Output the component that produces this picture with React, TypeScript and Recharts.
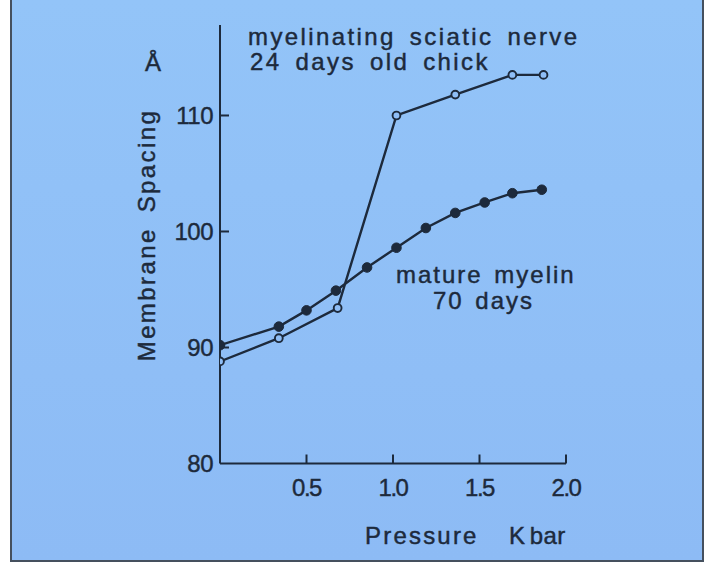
import React from 'react';
import { LineChart, Line, XAxis, YAxis } from 'recharts';

// Pressure (K bar) and membrane spacing (Å)
const maturePressure = [0, 0.34, 0.5, 0.67, 0.85, 1.02, 1.19, 1.36, 1.53, 1.69, 1.86];
const matureSpacing = [90.2, 91.8, 93.2, 94.9, 96.9, 98.6, 100.3, 101.6, 102.5, 103.3, 103.6];

const myelinatingPressure = [0, 0.34, 0.68, 1.02, 1.36, 1.69, 1.87];
const myelinatingSpacing = [88.8, 90.8, 93.4, 110.0, 111.8, 113.5, 113.5];

const xTicks = [0.5, 1.0, 1.5, 2.0];
const xTickLabels = ['0.5', '1.0', '1.5', '2.0'];
const yTicks = [80, 90, 100, 110];
const yTickLabels = ['80', '90', '100', '110'];

const matureData = maturePressure.map((x, i) => ({ x, y: matureSpacing[i] }));
const myelinatingData = myelinatingPressure.map((x, i) => ({ x, y: myelinatingSpacing[i] }));

const INK = '#1d2a3c';
const BG = '#8fbef6';
const FONT = '"Liberation Sans", Arial, Helvetica, sans-serif';

const XTick = (props: any) => {
  const { x, y, payload } = props;
  const idx = xTicks.indexOf(payload.value);
  return (
    <g>
      <line x1={x} y1={y} x2={x} y2={y - 9} stroke={INK} strokeWidth={2} />
      <text
        x={x}
        y={y + 32}
        textAnchor="middle"
        fill={INK}
        stroke={INK}
        strokeWidth={0.4}
        fontSize={24}
        fontFamily={FONT}
        letterSpacing={-1.5}
      >
        {idx >= 0 ? xTickLabels[idx] : payload.value}
      </text>
    </g>
  );
};

const YTick = (props: any) => {
  const { x, y, payload } = props;
  const idx = yTicks.indexOf(payload.value);
  return (
    <g>
      {payload.value !== 80 && <line x1={x} y1={y} x2={x + 9} y2={y} stroke={INK} strokeWidth={2} />}
      <text
        x={x - 7}
        y={y}
        dy="0.36em"
        textAnchor="end"
        fill={INK}
        stroke={INK}
        strokeWidth={0.4}
        fontSize={24}
        fontFamily={FONT}
        letterSpacing={-0.5}
      >
        {idx >= 0 ? yTickLabels[idx] : payload.value}
      </text>
    </g>
  );
};

const textStyle = { fill: INK, stroke: INK, strokeWidth: 0.45, fontFamily: FONT, fontSize: 24 } as const;

export default function App() {
  return (
    <div style={{ position: 'absolute', left: 0, top: 0, width: 708, height: 567, background: '#ffffff', overflow: 'hidden' }}>
      <div
        style={{
          position: 'absolute',
          left: 10,
          top: 0,
          width: 690,
          height: 560,
          background: `linear-gradient(180deg, #93c4f8 0%, #8dbbf5 100%)`,
          borderLeft: '2px solid #45505e',
          borderRight: '2px solid #45505e',
          borderBottom: '2px solid #45505e',
        }}
      />
      <div style={{ position: 'absolute', left: 0, top: 0 }}>
        <LineChart width={708} height={567} margin={{ top: 25, right: 142, bottom: 73.5, left: 160 }}>
          <XAxis
            type="number"
            dataKey="x"
            domain={[0, 2]}
            ticks={xTicks}
            height={30}
            tickSize={0}
            tickMargin={0}
            tickLine={false}
            axisLine={{ stroke: INK, strokeWidth: 2 }}
            tick={<XTick />}
            allowDataOverflow
          />
          <YAxis
            type="number"
            dataKey="y"
            domain={[80, 117.8]}
            ticks={yTicks}
            width={60}
            tickSize={0}
            tickMargin={0}
            tickLine={false}
            axisLine={{ stroke: INK, strokeWidth: 2 }}
            tick={<YTick />}
            allowDataOverflow
          />
          <Line
            data={myelinatingData}
            dataKey="y"
            type="linear"
            stroke={INK}
            strokeWidth={2.4}
            dot={{ r: 3.9, fill: BG, stroke: INK, strokeWidth: 1.9 }}
            isAnimationActive={false}
          />
          <Line
            data={matureData}
            dataKey="y"
            type="linear"
            stroke={INK}
            strokeWidth={2.4}
            dot={{ r: 4.8, fill: INK, stroke: INK, strokeWidth: 1 }}
            isAnimationActive={false}
          />
          <text x={248} y={45} {...textStyle} letterSpacing={2.4} wordSpacing={5}>myelinating sciatic nerve</text>
          <text x={250} y={70} {...textStyle} letterSpacing={2.4} wordSpacing={5}>24 days old chick</text>
          <text x={396} y={283} {...textStyle} letterSpacing={2} wordSpacing={3}>mature myelin</text>
          <text x={433} y={309} {...textStyle} letterSpacing={2} wordSpacing={3}>70 days</text>
          <text x={365} y={544} {...textStyle} letterSpacing={2.2}>Pressure</text>
          <text x={509} y={544} {...textStyle} letterSpacing={0.5} wordSpacing={-3}>K bar</text>
          <text x={153} y={71} {...textStyle} textAnchor="middle">Å</text>
          <text
            x={155}
            y={235}
            {...textStyle}
            textAnchor="middle"
            letterSpacing={2.4}
            wordSpacing={6}
            transform="rotate(-90, 155, 235)"
          >
            Membrane Spacing
          </text>
        </LineChart>
      </div>
    </div>
  );
}
